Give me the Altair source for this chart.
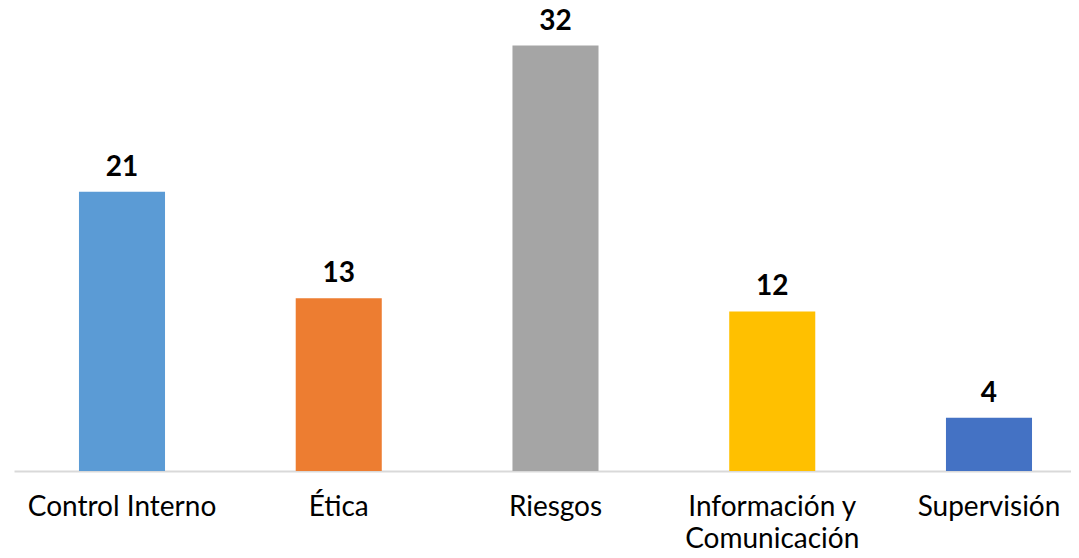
import altair as alt
import pandas as pd

categories = ["Control Interno", "Ética", "Riesgos", "Información y Comunicación", "Supervisión"]
values = [21, 13, 32, 12, 4]
colors = ["#5B9BD5", "#ED7D31", "#A5A5A5", "#FFC000", "#4472C4"]

df = pd.DataFrame({"cat": categories, "val": values, "color": colors})

x = alt.X("cat:N", sort=categories, title=None,
          scale=alt.Scale(paddingInner=0.603, paddingOuter=0.2398, align=0.625),
          axis=alt.Axis(labelAngle=0, labelFont="Lato", labelFontSize=28, labelColor="#000000",
                        labelPadding=22, labelLineHeight=32, ticks=False, domainColor="#d9d9d9",
                        domainWidth=2, labelLimit=400, labelBaseline="top",
                        labelExpr="datum.label == 'Información y Comunicación' ? ['Información y', 'Comunicación'] : datum.label"))
y = alt.Y("val:Q", title=None, scale=alt.Scale(domain=[0, 34], nice=False), axis=None)

bars = alt.Chart(df).mark_bar().encode(x=x, y=y, color=alt.Color("color:N", scale=None))
labels = alt.Chart(df).mark_text(dy=-16, baseline="alphabetic", font="Lato", fontSize=28,
                                 fontWeight="bold", color="#000000").encode(x=x, y=y, text="val:Q")

chart = (bars + labels).properties(
    width=1057, height=452,
    background="white",
    autosize=alt.AutoSizeParams(type="none"),
    padding={"left": 6, "top": 11, "right": 0, "bottom": 79},
).configure_view(stroke=None)

chart.save("out.html", embed_options={"renderer": "svg", "actions": False})
